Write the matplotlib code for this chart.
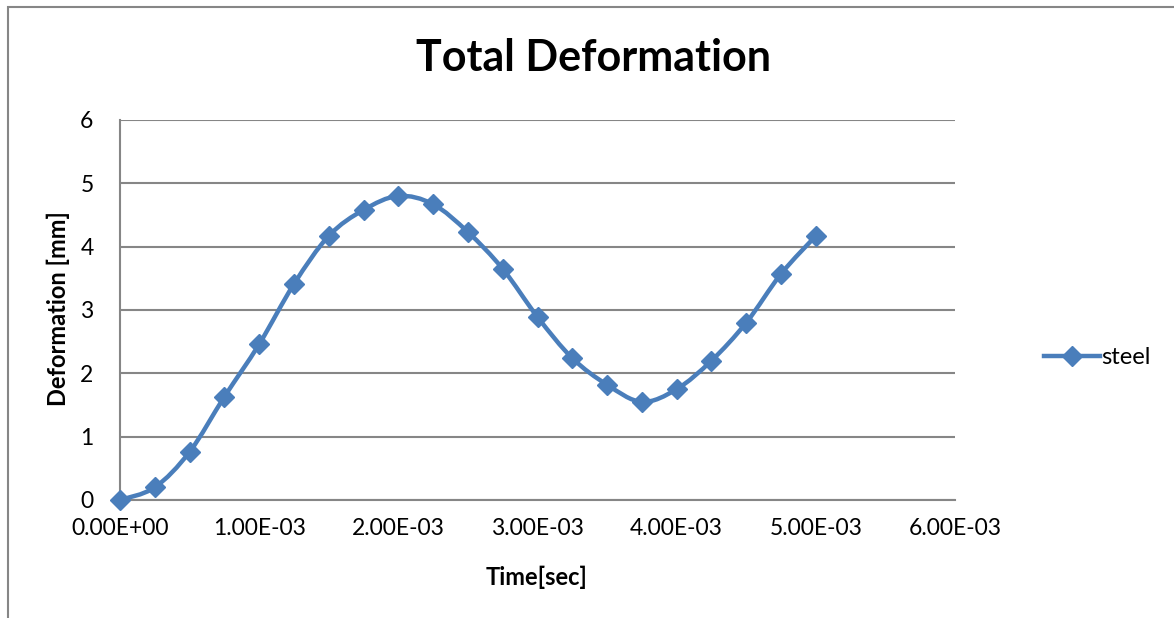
import matplotlib
matplotlib.use('Agg')
import matplotlib.pyplot as plt
from matplotlib.path import Path
from matplotlib.patches import PathPatch, Rectangle
from matplotlib.lines import Line2D
from matplotlib.ticker import FuncFormatter
import numpy as np

plt.rcParams['font.family'] = ['Lato', 'DejaVu Sans']

# steel deformation over time
time_s = [0.0, 0.25e-3, 0.5e-3, 0.75e-3, 1.0e-3, 1.25e-3, 1.5e-3, 1.75e-3,
          2.0e-3, 2.25e-3, 2.5e-3, 2.75e-3, 3.0e-3, 3.25e-3, 3.5e-3, 3.75e-3,
          4.0e-3, 4.25e-3, 4.5e-3, 4.75e-3, 5.0e-3]
deform_mm = [0.0, 0.20, 0.76, 1.63, 2.46, 3.41, 4.17, 4.58, 4.80, 4.67, 4.23,
             3.65, 2.89, 2.24, 1.82, 1.55, 1.75, 2.20, 2.80, 3.57, 4.17]
series_name = 'steel'
x_ticks = [0.0, 1e-3, 2e-3, 3e-3, 4e-3, 5e-3, 6e-3]
y_ticks = [0, 1, 2, 3, 4, 5, 6]

BLUE = '#4A7EBB'
GRID = '#868686'

fig = plt.figure(figsize=(11.74, 6.18), dpi=100)
fig.patch.set_facecolor('white')

# chart-area border (left and top edges visible)
fig.patches.append(Rectangle((8 / 1174, -0.2), 1.5, 1 - 7 / 618 + 0.2,
                             transform=fig.transFigure, fill=False,
                             edgecolor=GRID, lw=1.5))

ax = fig.add_axes([120 / 1174, 118 / 618, 835 / 1174, 380 / 618])
ax.set_xlim(0, 6e-3)
ax.set_ylim(0, 6)
ax.set_xticks(x_ticks)
ax.set_yticks(y_ticks)
ax.xaxis.set_major_formatter(FuncFormatter(
    lambda v, p: '%.2E' % v if v != 0 else '0.00E+00'))
ax.tick_params(length=0, labelsize=16.5, colors='black')
ax.tick_params(axis='x', pad=13)
ax.tick_params(axis='y', pad=19)

for s in ['top', 'right']:
    ax.spines[s].set_visible(False)
for s in ['left', 'bottom']:
    ax.spines[s].set_color(GRID)
    ax.spines[s].set_linewidth(1.5)
ax.yaxis.grid(True, color=GRID, lw=1.5)
ax.set_axisbelow(True)

# smoothed line through points (Catmull-Rom as cubic Bezier)
pts = np.column_stack([np.asarray(time_s), np.asarray(deform_mm)])
verts = [pts[0]]
codes = [Path.MOVETO]
n = len(pts)
for i in range(n - 1):
    p0 = pts[i - 1] if i > 0 else pts[i]
    p1 = pts[i]
    p2 = pts[i + 1]
    p3 = pts[i + 2] if i + 2 < n else pts[i + 1]
    verts += [p1 + (p2 - p0) / 6.0, p2 - (p3 - p1) / 6.0, p2]
    codes += [Path.CURVE4] * 3
ax.add_patch(PathPatch(Path(verts, codes), fill=False, edgecolor=BLUE,
                       lw=3.2, capstyle='round', joinstyle='round',
                       transform=ax.transData, clip_on=False, zorder=3))
ax.plot(time_s, deform_mm, ls='none', marker='D', ms=10, color=BLUE,
        clip_on=False, zorder=4)

fig.text(594 / 1174, 1 - 58 / 618, 'Total Deformation', fontsize=31,
         fontweight='bold', ha='center', va='center')
fig.text(537 / 1174, 1 - 577 / 618, 'Time[sec]', fontsize=17,
         fontweight='bold', ha='center', va='center')
fig.text(58 / 1174, 1 - 309 / 618, 'Deformation [mm]', fontsize=17,
         fontweight='bold', ha='center', va='center', rotation=90)

handle = Line2D([], [], color=BLUE, lw=3.2, marker='D', ms=10)
ax.legend([handle], [series_name], loc='center left',
          bbox_to_anchor=(1.095, 0.375), frameon=False, fontsize=17,
          handlelength=2.4, handletextpad=0.05, borderaxespad=0)

fig.savefig('out.png', dpi=100, facecolor='white')
